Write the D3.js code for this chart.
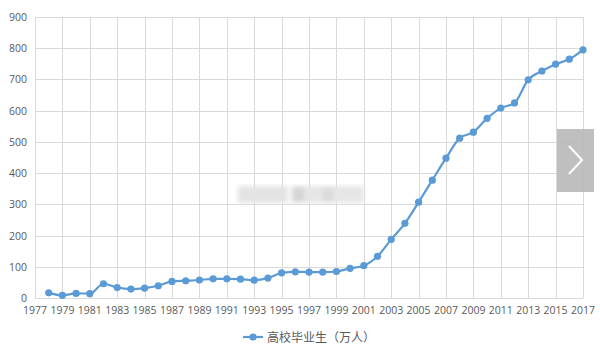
<!doctype html>
<html>
<head>
<meta charset="utf-8">
<style>
    body { margin: 0; background: #fff; }
    svg text { font-family: "Open Sans", "Noto Sans CJK SC", sans-serif; }
</style>
</head>
<body>
<div class="chart"></div>
<script src="https://d3js.org/d3.v7.min.js"></script>
<script>

    // graduates per year (10k people)
    let years = [1978, 1979, 1980, 1981, 1982, 1983, 1984, 1985, 1986, 1987,
        1988, 1989, 1990, 1991, 1992, 1993, 1994, 1995, 1996, 1997,
        1998, 1999, 2000, 2001, 2002, 2003, 2004, 2005, 2006, 2007,
        2008, 2009, 2010, 2011, 2012, 2013, 2014, 2015, 2016, 2017];
    let graduates = [16.5, 8.5, 14.7, 14, 45.7, 33.5, 28.7, 31.6, 39.3, 53.2,
        55.3, 57.6, 61.4, 61.4, 60.4, 57.1, 63.7, 80.5, 83.9, 82.9,
        83, 84.8, 95, 103.6, 133.7, 187.7, 239.1, 306.8, 377.5, 447.8,
        511.9, 531.1, 575.4, 608.2, 624.7, 699, 727, 749, 765, 795];
    let xTicks = d3.range(1977, 2018, 2);
    let yTicks = d3.range(0, 901, 100);
    let seriesName = '高校毕业生（万人）';

    let width = 600, height = 354;
    let margin = {top: 17, right: 17, bottom: 56, left: 35};

    let svg = d3.select('.chart').append('svg')
        .attr('width', width)
        .attr('height', height);

    let x = d3.scaleLinear().domain([1977, 2017]).range([margin.left, width - margin.right]);
    let y = d3.scaleLinear().domain([0, 900]).range([height - margin.bottom, margin.top]);

    // grid
    svg.append('g').selectAll('line.h')
        .data(yTicks)
        .join('line')
        .attr('x1', margin.left).attr('x2', width - margin.right)
        .attr('y1', d => Math.round(y(d)) + 0.5).attr('y2', d => Math.round(y(d)) + 0.5)
        .attr('stroke', '#d9d9d9');

    svg.append('g').selectAll('line.v')
        .data(xTicks)
        .join('line')
        .attr('y1', margin.top).attr('y2', y(0))
        .attr('x1', d => Math.round(x(d)) + 0.5).attr('x2', d => Math.round(x(d)) + 0.5)
        .attr('stroke', '#d9d9d9');

    // axes labels
    svg.append('g').selectAll('text')
        .data(yTicks)
        .join('text')
        .attr('x', margin.left - 8)
        .attr('y', d => y(d) + 4)
        .attr('text-anchor', 'end')
        .attr('font-size', 10.5)
        .attr('fill', '#595959')
        .text(d => d);

    svg.append('g').selectAll('text')
        .data(xTicks)
        .join('text')
        .attr('x', d => x(d))
        .attr('y', y(0) + 16)
        .attr('text-anchor', 'middle')
        .attr('font-size', 10.5)
        .attr('fill', '#595959')
        .text(d => d);

    // blurred watermark
    let defs = svg.append('defs');
    defs.append('filter').attr('id', 'blur')
        .append('feGaussianBlur').attr('stdDeviation', 2.5);
    let wm = svg.append('g').attr('filter', 'url(#blur)');
    wm.append('rect').attr('x', 238).attr('y', 186).attr('width', 50).attr('height', 17).attr('fill', '#e3e3e3');
    wm.append('rect').attr('x', 292).attr('y', 186).attr('width', 72).attr('height', 17).attr('fill', '#e6e6e6');
    wm.append('rect').attr('x', 292).attr('y', 187).attr('width', 12).attr('height', 15).attr('fill', '#d4d4d4');
    wm.append('rect').attr('x', 323).attr('y', 187).attr('width', 10).attr('height', 15).attr('fill', '#dadada');

    // series
    let data = years.map((yr, i) => ({year: yr, value: graduates[i]}));
    let color = '#5b9bd5';

    svg.append('path')
        .datum(data)
        .attr('fill', 'none')
        .attr('stroke', color)
        .attr('stroke-width', 2.2)
        .attr('d', d3.line().x(d => x(d.year)).y(d => y(d.value)).curve(d3.curveMonotoneX));

    svg.append('g').selectAll('circle')
        .data(data)
        .join('circle')
        .attr('cx', d => x(d.year))
        .attr('cy', d => y(d.value))
        .attr('r', 3.6)
        .attr('fill', color);

    // legend
    let legend = svg.append('g').attr('transform', 'translate(243,337)');
    legend.append('line').attr('x1', 0).attr('x2', 20).attr('y1', 0).attr('y2', 0)
        .attr('stroke', color).attr('stroke-width', 2.2);
    legend.append('circle').attr('cx', 10).attr('cy', 0).attr('r', 3.6).attr('fill', color);
    legend.append('text').attr('x', 24).attr('y', 4.5)
        .attr('font-size', 12).attr('fill', '#595959')
        .text(seriesName);

    // next arrow overlay
    let nav = svg.append('g');
    nav.append('rect').attr('x', 557).attr('y', 129).attr('width', 37).attr('height', 63)
        .attr('fill', '#b8b8b8').attr('opacity', 0.9);
    nav.append('path').attr('d', 'M569,146 L582,160 L569,174')
        .attr('fill', 'none').attr('stroke', '#fff').attr('stroke-width', 2);

</script>
</body>
</html>
